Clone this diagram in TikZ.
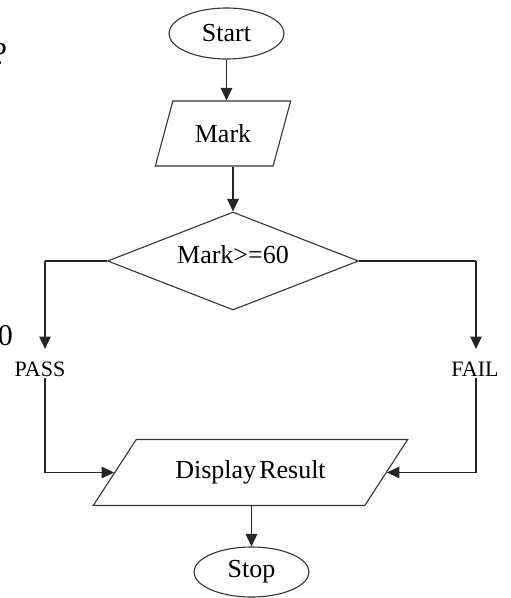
\documentclass[tikz,border=0pt]{standalone}
\usepackage{fontspec}
\setmainfont{Liberation Serif}
\usetikzlibrary{shapes.geometric,arrows.meta}
\begin{document}
\begin{tikzpicture}[x=1pt,y=-1pt,
  line/.style={draw=black!85,line width=1.3pt},
  arr/.style={line,-{Triangle[length=12.5pt,width=11.5pt]}},
  shapebox/.style={draw=black!80,line width=1.1pt,inner sep=0pt,font=\fontsize{26}{28}\selectfont},
  term/.style={shapebox,ellipse,minimum width=115pt,minimum height=51pt},
  io/.style={shapebox,trapezium,trapezium stretches=true},
  tag/.style={inner sep=0pt,font=\fontsize{22}{24}\selectfont}]
\useasboundingbox (0,0) rectangle (511,598);
\clip (0,0) rectangle (511,598);

% margin text running off the left edge
\node[inner sep=0pt,font=\fontsize{32}{34}\selectfont] (qmark) at (0,54) {?};
\node[inner sep=0pt,font=\fontsize{30}{32}\selectfont] (zero) at (5.5,336) {0};

% flowchart shapes
\node[term] (start) at (226.5,33.5) {Start};
\node[io,trapezium left angle=61.7,trapezium right angle=118.3,
      minimum width=136pt,minimum height=65pt] (mark) at (223,133.5) {Mark};
\node[shapebox,diamond,minimum width=251pt,minimum height=98pt] (dec) at (233,261) {};
\node[inner sep=0pt,font=\fontsize{26}{28}\selectfont] (dectext) at (233,255) {Mark>=60};
\node[io,trapezium left angle=39.9,trapezium right angle=140.1,
      minimum width=315pt,minimum height=66pt] (disp) at (250.5,472.5) {Display\hspace{0.12em}Result};
\node[term,minimum height=50pt] (stop) at (251.5,572) {Stop};

% branch labels
\node[tag] (pass) at (40,369) {PASS};
\node[tag] (fail) at (475,369) {FAIL};

% corner points of the branch lines
\coordinate (lcorner) at (45,261);
\coordinate (ltip) at (45,349);
\coordinate (rcorner) at (476,261);
\coordinate (rtip) at (476,349);
\coordinate (lstart) at (45,378);
\coordinate (rstart) at (476,378);

% connectors
\draw[arr] (start.south) -- (start.south |- mark.north);
\draw[arr] (dec.north |- mark.south) -- (dec.north);
\draw[line] (dec.west) -- (lcorner);
\draw[arr] (lcorner) -- (ltip);
\draw[line] (dec.east) -- (rcorner);
\draw[arr] (rcorner) -- (rtip);
\draw[arr] (lstart) -- (lstart |- disp.left side) -- (disp.left side);
\draw[arr] (rstart) -- (rstart |- disp.right side) -- (disp.right side);
\draw[arr] (disp.south -| stop.north) -- (stop.north);
\end{tikzpicture}
\end{document}
